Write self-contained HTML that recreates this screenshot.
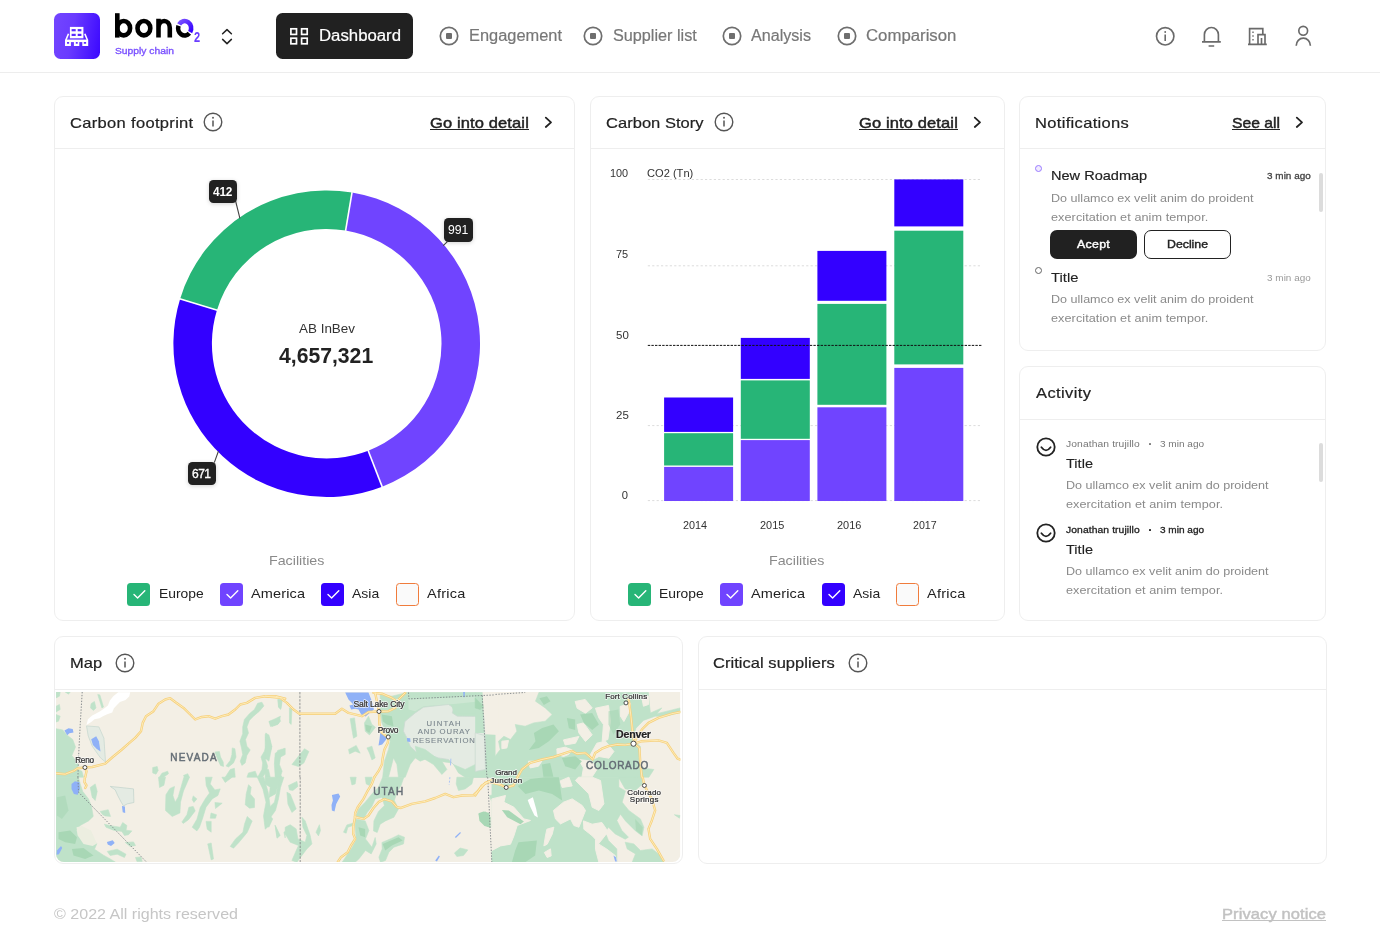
<!DOCTYPE html>
<html lang="en">
<head>
<meta charset="utf-8">
<title>bono2 Supply chain - Dashboard</title>
<style>
*{box-sizing:border-box;margin:0;padding:0}
html,body{width:1380px;height:941px;overflow:hidden;background:#fff}
body{font-family:"Liberation Sans",sans-serif;position:relative;color:#222}
.t{position:absolute;white-space:nowrap;display:block;transform-origin:0 0}
h1,h2,h3,p{font-weight:400}
h2,h3,nav a{-webkit-text-stroke-width:.2px}
a{text-decoration:none}
.abs{position:absolute}
.card{position:absolute;background:#fff;border:1px solid #eeeeee;border-radius:9px}
.sep{position:absolute;height:1px;background:#eeeeee}
.u{text-decoration:underline;text-underline-offset:2px;text-decoration-thickness:1px}
svg{position:absolute;overflow:visible}
.cb{position:absolute;width:23px;height:23px;border-radius:3.5px}
.lbl{position:absolute;background:#212121;border-radius:4.5px;box-shadow:0 1px 4px rgba(0,0,0,.18)}
.btn{position:absolute;border-radius:7px;height:28.5px}
.sb{position:absolute;width:3.5px;border-radius:2px;background:#dcdcdc}
</style>
</head>
<body><div id="app" style="position:absolute;left:0;top:0;width:1380px;height:941px;will-change:transform">
<header>
<div class="abs" style="left:0;top:72px;width:1380px;height:1px;background:#ededed"></div>
<div class="abs" style="left:54px;top:13px;width:46px;height:46px;border-radius:6.5px;background:linear-gradient(100deg,#7346ff 0%,#6a3bff 40%,#3a07ff 100%)"></div>
<svg style="left:54px;top:13px" width="46" height="46" viewBox="54 13 46 46">
<rect x="69.9" y="26.9" width="13.5" height="11.4" fill="#fff"/>
<rect x="71.6" y="29.1" width="4.1" height="2.2" fill="#5b2dff"/><rect x="77.7" y="29.1" width="3.7" height="2.2" fill="#5426ff"/>
<rect x="71.6" y="33.8" width="4.1" height="2.2" fill="#5b2dff"/><rect x="77.7" y="33.8" width="3.7" height="2.2" fill="#5426ff"/>
<path d="M68.5 33.8 L65.9 40 M84.8 33.8 L87.4 40" stroke="#fff" stroke-width="1.6" fill="none"/>
<rect x="65" y="39.6" width="23.2" height="2.5" fill="#fff"/>
<path d="M65 42h5.9v4h-5.9z M73.9 42h5.4v4h-5.4z M82.3 42h5.9v4h-5.9z" fill="#fff"/>
<path d="M67 42.1h2.1v1.6h-2.1z M75.8 42.1h1.9v1.6h-1.9z M83.8 42.1h2.3v1.6h-2.3z" fill="#6030ff"/>
</svg>
<svg style="left:110px;top:8px" width="100" height="40" viewBox="110 8 100 40">
<defs><linearGradient id="og" x1="0" y1="0" x2="1" y2="1"><stop offset="0" stop-color="#7a50ff"/><stop offset="1" stop-color="#3300ff"/></linearGradient></defs>
<g fill="none" stroke="#000" stroke-width="4.6">
<path d="M117.3 13.2 V37.6"/>
<ellipse cx="123.7" cy="28.2" rx="6.4" ry="7.2"/>
<ellipse cx="143.9" cy="28.2" rx="6.4" ry="7.2"/>
<path d="M158.5 18.8 V37.4 M158.5 28 C158.5 18.6 169.8 18.6 169.8 28 V37.4"/>
</g>
<path d="M189.33 33.20 A6.5 7.2 0 0 1 178.54 25.74" fill="none" stroke="#000" stroke-width="4.6"/>
<path d="M179.14 24.38 A6.5 7.2 0 0 1 190.16 32.02" fill="none" stroke="url(#og)" stroke-width="4.6"/>
</svg>
<span class="t" style="left:194.00px;top:30.00px;font-size:14.2px;line-height:14.2px;color:#6a3dff;font-weight:700;transform:scaleX(.78);transform-origin:0 0;">2</span>
<span class="t" style="left:115.20px;top:46.00px;font-size:9.6px;line-height:9.6px;color:#7b52ff;transform:scaleX(1.0733);-webkit-text-stroke:.35px #7b52ff;">Supply chain</span>
<svg style="left:220px;top:27px" width="14" height="18" viewBox="220 27 14 18"><path d="M222.6 33.8 L227 29.6 L231.4 33.8 M222.6 39.4 L227 43.6 L231.4 39.4" fill="none" stroke="#222" stroke-width="1.5" stroke-linecap="round" stroke-linejoin="round"/></svg>
<nav>
<div class="abs" style="left:276px;top:13px;width:137px;height:46px;border-radius:6.5px;background:#212121"></div>
<svg style="left:289px;top:27px" width="20" height="19" viewBox="289 27 20 19"><g fill="none" stroke="#fff" stroke-width="1.7">
<rect x="290.9" y="28.8" width="5.6" height="5.6"/><rect x="301.6" y="28.8" width="5.6" height="5.6"/>
<rect x="290.9" y="38.2" width="5.6" height="5.6"/><rect x="301.6" y="38.2" width="5.6" height="5.6"/></g></svg>
<a class="t" style="left:318.60px;top:28.00px;font-size:16px;line-height:16px;color:#ffffff;transform:scaleX(1.0476);">Dashboard</a>
<svg style="left:438.3px;top:25px" width="22" height="22" viewBox="438.3 25 22 22"><circle cx="449.3" cy="36" r="8.7" fill="none" stroke="#6e6e6e" stroke-width="1.7"/><rect x="446.3" y="33" width="6" height="6" rx="1" fill="#6e6e6e"/></svg>
<a class="t" style="left:469.00px;top:28.00px;font-size:16px;line-height:16px;color:#777777;transform:scaleX(1.0249);">Engagement</a>
<svg style="left:582.2px;top:25px" width="22" height="22" viewBox="582.2 25 22 22"><circle cx="593.2" cy="36" r="8.7" fill="none" stroke="#6e6e6e" stroke-width="1.7"/><rect x="590.2" y="33" width="6" height="6" rx="1" fill="#6e6e6e"/></svg>
<a class="t" style="left:612.50px;top:28.00px;font-size:16px;line-height:16px;color:#777777;transform:scaleX(1.0132);">Supplier list</a>
<svg style="left:720.5px;top:25px" width="22" height="22" viewBox="720.5 25 22 22"><circle cx="731.5" cy="36" r="8.7" fill="none" stroke="#6e6e6e" stroke-width="1.7"/><rect x="728.5" y="33" width="6" height="6" rx="1" fill="#6e6e6e"/></svg>
<a class="t" style="left:751.20px;top:28.00px;font-size:16px;line-height:16px;color:#777777;transform:scaleX(1.0070);">Analysis</a>
<svg style="left:835.6px;top:25px" width="22" height="22" viewBox="835.6 25 22 22"><circle cx="846.6" cy="36" r="8.7" fill="none" stroke="#6e6e6e" stroke-width="1.7"/><rect x="843.6" y="33" width="6" height="6" rx="1" fill="#6e6e6e"/></svg>
<a class="t" style="left:866.00px;top:28.00px;font-size:16px;line-height:16px;color:#777777;transform:scaleX(1.0480);">Comparison</a>
</nav>
<svg style="left:1150px;top:20px" width="170" height="32" viewBox="1150 20 170 32"><g fill="none" stroke="#6a6a6a" stroke-width="1.65">
<circle cx="1165.2" cy="36.3" r="8.7"/>
<path d="M1165.2 34.6 V41" stroke-width="1.6"/><circle cx="1165.2" cy="32" r=".95" fill="#6a6a6a" stroke="none"/>
<path d="M1204.4 41.6 V34.6 A6.9 7 0 0 1 1218.4 34.6 V41.6 M1202 41.9 H1220.8 M1208.6 46 H1214.2"/>
<path d="M1249.6 44.2 V28.6 H1262.8 V34.2 M1258 44.2 V34.6 H1265 V44.2 M1248 44.4 H1266.8 M1261.5 44.2 V38"/>
<path d="M1252.3 32.3 h1.4 M1252.3 36 h1.4 M1252.3 39.7 h1.4" stroke-width="1.4"/>
<circle cx="1303.2" cy="30.8" r="4.4"/>
<path d="M1296.2 45.8 A7.1 7.6 0 0 1 1310.4 45.8"/>
</g></svg>
</header>
<main>
<section>
<div class="card" style="left:53.5px;top:95.5px;width:521.5px;height:525px"></div>
<div class="sep" style="left:54.5px;top:148.3px;width:519.5px"></div>
<h2 class="t" style="left:69.60px;top:115.00px;font-size:15px;line-height:15px;color:#222;letter-spacing:0.296px;transform:scaleX(1.1000);">Carbon footprint</h2>
<svg style="left:201.7px;top:111.4px" width="22" height="22" viewBox="201.7 111.4 22 22"><circle cx="212.7" cy="122.4" r="8.8" fill="none" stroke="#555" stroke-width="1.4"/><path d="M212.7 120.80000000000001 V127.0" stroke="#555" stroke-width="1.5"/><circle cx="212.7" cy="118.10000000000001" r=".95" fill="#555"/></svg>
<a class="t" style="left:430.00px;top:115.00px;font-size:15px;line-height:15px;color:#222;letter-spacing:0.110px;transform:scaleX(1.1000);-webkit-text-stroke:.45px #222;">Go into detail</a><div class="abs" style="left:430px;top:128.9px;width:98.8px;height:1.2px;background:#222"></div>
<svg style="left:542.6px;top:115.3px" width="12" height="15" viewBox="542.6 115.3 12 15"><path d="M545.4 117.89999999999999 L550.6 122.6 L545.4 127.3" fill="none" stroke="#222" stroke-width="1.8" stroke-linecap="round" stroke-linejoin="round"/></svg>
<svg style="left:0;top:0" width="1380" height="941" viewBox="0 0 1380 941"><path d="M352.00 192.50 A153.3 153.3 0 0 1 382.14 486.63 L368.21 450.73 A114.8 114.8 0 0 0 345.65 230.47 Z" fill="#7044ff"/><path d="M382.14 486.63 A153.3 153.3 0 0 1 180.10 298.88 L216.92 310.14 A114.8 114.8 0 0 0 368.21 450.73 Z" fill="#3300ff"/><path d="M180.10 298.88 A153.3 153.3 0 0 1 352.00 192.50 L345.65 230.47 A114.8 114.8 0 0 0 216.92 310.14 Z" fill="#27b577"/><path d="M352.08 192.01 L345.56 230.97" stroke="#fff" stroke-width="1.6"/><path d="M382.32 487.09 L368.03 450.26" stroke="#fff" stroke-width="1.6"/><path d="M179.62 298.73 L217.39 310.28" stroke="#fff" stroke-width="1.6"/></svg>
<svg style="left:0;top:0" width="1380" height="941" viewBox="0 0 1380 941"><path d="M235.6 201 L239.9 218.3 M447.4 241.6 L443.2 245.6 M214.3 462.6 L218.4 451.2" stroke="#444" stroke-width="1.1" fill="none"/></svg>
<div class="lbl" style="left:209px;top:180px;width:28px;height:23px"></div>
<span class="t" style="left:213.10px;top:186.00px;font-size:12.6px;line-height:12.6px;color:#fff;font-weight:700;letter-spacing:-0.192px;transform:scaleX(0.9400);">412</span>
<div class="lbl" style="left:444.2px;top:217.6px;width:28.8px;height:24.6px"></div>
<span class="t" style="left:448.20px;top:223.00px;font-size:13px;line-height:13px;color:#fff;transform:scaleX(0.9405);">991</span>
<div class="lbl" style="left:187.9px;top:462px;width:28px;height:23px"></div>
<span class="t" style="left:192.00px;top:468.00px;font-size:12.8px;line-height:12.8px;color:#fff;letter-spacing:-0.572px;transform:scaleX(0.9400);-webkit-text-stroke:.35px #fff;">671</span>
<span class="t" style="left:298.90px;top:322.00px;font-size:13px;line-height:13px;color:#333;transform:scaleX(1.0333);">AB InBev</span>
<span class="t" style="left:279.40px;top:345.00px;font-size:22.4px;line-height:22.4px;color:#222;font-weight:700;transform:scaleX(0.9453);">4,657,321</span>
<span class="t" style="left:268.80px;top:554.00px;font-size:13px;line-height:13px;color:#8a8a8a;transform:scaleX(1.0956);">Facilities</span><div class="cb" style="left:127.4px;top:582.5px;background:#27b577"></div><svg style="left:127.4px;top:582.5px" width="23" height="23" viewBox="0 0 23 23"><path d="M7 11.6 L10.6 15 L17.8 7.8" fill="none" stroke="#fff" stroke-width="1.4" stroke-linecap="round" stroke-linejoin="round"/></svg><span class="t" style="left:158.60px;top:587.00px;font-size:13.2px;line-height:13.2px;color:#222;transform:scaleX(1.0501);">Europe</span><div class="cb" style="left:219.6px;top:582.5px;background:#7044ff"></div><svg style="left:219.6px;top:582.5px" width="23" height="23" viewBox="0 0 23 23"><path d="M7 11.6 L10.6 15 L17.8 7.8" fill="none" stroke="#fff" stroke-width="1.4" stroke-linecap="round" stroke-linejoin="round"/></svg><span class="t" style="left:250.80px;top:587.00px;font-size:13.2px;line-height:13.2px;color:#222;letter-spacing:0.113px;transform:scaleX(1.1000);">America</span><div class="cb" style="left:321.3px;top:582.5px;background:#3300ff"></div><svg style="left:321.3px;top:582.5px" width="23" height="23" viewBox="0 0 23 23"><path d="M7 11.6 L10.6 15 L17.8 7.8" fill="none" stroke="#fff" stroke-width="1.4" stroke-linecap="round" stroke-linejoin="round"/></svg><span class="t" style="left:352.00px;top:587.00px;font-size:13.2px;line-height:13.2px;color:#222;transform:scaleX(1.0592);">Asia</span><div class="cb" style="left:395.9px;top:582.5px;background:#fafafa;border:1.6px solid #f07c3c"></div><span class="t" style="left:426.80px;top:587.00px;font-size:13.2px;line-height:13.2px;color:#222;letter-spacing:0.215px;transform:scaleX(1.1000);">Africa</span>
</section>
<section>
<div class="card" style="left:590px;top:95.5px;width:414.5px;height:525px"></div>
<div class="sep" style="left:591px;top:148.3px;width:412.5px"></div>
<h2 class="t" style="left:606.20px;top:115.00px;font-size:15px;line-height:15px;color:#222;letter-spacing:0.032px;transform:scaleX(1.1000);">Carbon Story</h2>
<svg style="left:713.4px;top:111.4px" width="22" height="22" viewBox="713.4 111.4 22 22"><circle cx="724.4" cy="122.4" r="8.8" fill="none" stroke="#555" stroke-width="1.4"/><path d="M724.4 120.80000000000001 V127.0" stroke="#555" stroke-width="1.5"/><circle cx="724.4" cy="118.10000000000001" r=".95" fill="#555"/></svg>
<a class="t" style="left:859.30px;top:115.00px;font-size:15px;line-height:15px;color:#222;letter-spacing:0.110px;transform:scaleX(1.1000);-webkit-text-stroke:.45px #222;">Go into detail</a><div class="abs" style="left:859.3px;top:128.9px;width:98.8px;height:1.2px;background:#222"></div>
<svg style="left:971.9px;top:115.3px" width="12" height="15" viewBox="971.9 115.3 12 15"><path d="M974.6999999999999 117.89999999999999 L979.9 122.6 L974.6999999999999 127.3" fill="none" stroke="#222" stroke-width="1.8" stroke-linecap="round" stroke-linejoin="round"/></svg>
<svg style="left:0;top:0" width="1380" height="941" viewBox="0 0 1380 941"><path d="M647.8 179.5 H981.6" stroke="#dcdcdc" stroke-width="1" stroke-dasharray="2.2 2.2"/><path d="M647.8 265.8 H981.6" stroke="#dcdcdc" stroke-width="1" stroke-dasharray="2.2 2.2"/><path d="M647.8 425.6 H981.6" stroke="#dcdcdc" stroke-width="1" stroke-dasharray="2.2 2.2"/><path d="M647.8 500.6 H981.6" stroke="#dcdcdc" stroke-width="1" stroke-dasharray="2.2 2.2"/><rect x="664.1" y="397.5" width="69.0" height="34.4" fill="#3300ff"/><rect x="664.1" y="433.2" width="69.0" height="32.3" fill="#27b577"/><rect x="664.1" y="466.9" width="69.0" height="34.1" fill="#7044ff"/><rect x="740.8" y="337.9" width="69.0" height="41.0" fill="#3300ff"/><rect x="740.8" y="380.4" width="69.0" height="58.4" fill="#27b577"/><rect x="740.8" y="440.1" width="69.0" height="60.9" fill="#7044ff"/><rect x="817.4" y="250.9" width="69.0" height="49.9" fill="#3300ff"/><rect x="817.4" y="303.9" width="69.0" height="100.9" fill="#27b577"/><rect x="817.4" y="407.3" width="69.0" height="93.7" fill="#7044ff"/><rect x="894.3" y="179.4" width="69.0" height="47.0" fill="#3300ff"/><rect x="894.3" y="230.7" width="69.0" height="133.7" fill="#27b577"/><rect x="894.3" y="367.9" width="69.0" height="133.1" fill="#7044ff"/><path d="M647.8 345.4 H981.6" stroke="#111" stroke-width="1" stroke-dasharray="2.4 1.2"/></svg>
<span class="t" style="left:610.00px;top:168.00px;font-size:11.2px;line-height:11.2px;color:#333;transform:scaleX(0.9739);">100</span>
<span class="t" style="left:647.00px;top:168.00px;font-size:11.2px;line-height:11.2px;color:#333;transform:scaleX(0.9920);">CO2 (Tn)</span>
<span class="t" style="left:616.40px;top:249.00px;font-size:11.2px;line-height:11.2px;color:#333;transform:scaleX(0.9793);">75</span>
<span class="t" style="left:615.80px;top:330.00px;font-size:11.2px;line-height:11.2px;color:#333;transform:scaleX(1.0274);">50</span>
<span class="t" style="left:615.80px;top:410.00px;font-size:11.2px;line-height:11.2px;color:#333;transform:scaleX(1.0274);">25</span>
<span class="t" style="left:621.80px;top:490.00px;font-size:11.2px;line-height:11.2px;color:#333;">0</span>
<span class="t" style="left:683.20px;top:520.00px;font-size:11.2px;line-height:11.2px;color:#333;transform:scaleX(0.9672);">2014</span>
<span class="t" style="left:760.00px;top:520.00px;font-size:11.2px;line-height:11.2px;color:#333;transform:scaleX(0.9753);">2015</span>
<span class="t" style="left:836.50px;top:520.00px;font-size:11.2px;line-height:11.2px;color:#333;transform:scaleX(0.9793);">2016</span>
<span class="t" style="left:913.00px;top:520.00px;font-size:11.2px;line-height:11.2px;color:#333;transform:scaleX(0.9512);">2017</span>
<span class="t" style="left:769.30px;top:554.00px;font-size:13px;line-height:13px;color:#8a8a8a;transform:scaleX(1.0956);">Facilities</span><div class="cb" style="left:627.9px;top:582.5px;background:#27b577"></div><svg style="left:627.9px;top:582.5px" width="23" height="23" viewBox="0 0 23 23"><path d="M7 11.6 L10.6 15 L17.8 7.8" fill="none" stroke="#fff" stroke-width="1.4" stroke-linecap="round" stroke-linejoin="round"/></svg><span class="t" style="left:659.10px;top:587.00px;font-size:13.2px;line-height:13.2px;color:#222;transform:scaleX(1.0501);">Europe</span><div class="cb" style="left:720.1px;top:582.5px;background:#7044ff"></div><svg style="left:720.1px;top:582.5px" width="23" height="23" viewBox="0 0 23 23"><path d="M7 11.6 L10.6 15 L17.8 7.8" fill="none" stroke="#fff" stroke-width="1.4" stroke-linecap="round" stroke-linejoin="round"/></svg><span class="t" style="left:751.30px;top:587.00px;font-size:13.2px;line-height:13.2px;color:#222;letter-spacing:0.113px;transform:scaleX(1.1000);">America</span><div class="cb" style="left:821.8px;top:582.5px;background:#3300ff"></div><svg style="left:821.8px;top:582.5px" width="23" height="23" viewBox="0 0 23 23"><path d="M7 11.6 L10.6 15 L17.8 7.8" fill="none" stroke="#fff" stroke-width="1.4" stroke-linecap="round" stroke-linejoin="round"/></svg><span class="t" style="left:852.50px;top:587.00px;font-size:13.2px;line-height:13.2px;color:#222;transform:scaleX(1.0592);">Asia</span><div class="cb" style="left:896.4px;top:582.5px;background:#fafafa;border:1.6px solid #f07c3c"></div><span class="t" style="left:927.30px;top:587.00px;font-size:13.2px;line-height:13.2px;color:#222;letter-spacing:0.215px;transform:scaleX(1.1000);">Africa</span>
</section>
<section>
<div class="card" style="left:1019.3px;top:95.5px;width:307px;height:255.3px"></div>
<div class="sep" style="left:1020.3px;top:148.3px;width:305px"></div>
<h2 class="t" style="left:1035.30px;top:115.00px;font-size:15px;line-height:15px;color:#222;letter-spacing:0.297px;transform:scaleX(1.1000);">Notifications</h2>
<a class="t" style="left:1231.80px;top:115.00px;font-size:15px;line-height:15px;color:#222;transform:scaleX(1.0465);-webkit-text-stroke:.45px #222;">See all</a><div class="abs" style="left:1231.8px;top:128.9px;width:48px;height:1.2px;background:#222"></div>
<svg style="left:1294.1px;top:115.3px" width="12" height="15" viewBox="1294.1 115.3 12 15"><path d="M1296.8999999999999 117.89999999999999 L1302.1 122.6 L1296.8999999999999 127.3" fill="none" stroke="#222" stroke-width="1.8" stroke-linecap="round" stroke-linejoin="round"/></svg>
<div class="abs" style="left:1035.2px;top:165.2px;width:7.3px;height:7.3px;border-radius:50%;border:1.1px solid #9a7bff;background:#f0ebff"></div>
<h3 class="t" style="left:1050.80px;top:169.00px;font-size:13.5px;line-height:13.5px;color:#222;transform:scaleX(1.0773);">New Roadmap</h3>
<span class="t" style="left:1266.50px;top:172.00px;font-size:9px;line-height:9px;color:#444;letter-spacing:0.037px;transform:scaleX(1.1000);-webkit-text-stroke:.3px #444;">3 min ago</span>
<p class="t" style="left:1050.80px;top:193.00px;font-size:11.5px;line-height:11.5px;color:#8a8a8a;transform:scaleX(1.0929);">Do ullamco ex velit anim do proident</p>
<p class="t" style="left:1050.80px;top:212.00px;font-size:11.5px;line-height:11.5px;color:#8a8a8a;letter-spacing:0.064px;transform:scaleX(1.1000);">exercitation et anim tempor.</p>
<div class="btn" style="left:1050.2px;top:230.3px;width:86.4px;background:#212121"></div>
<span class="t" style="left:1077.10px;top:239.00px;font-size:11.2px;line-height:11.2px;color:#fff;letter-spacing:0.294px;transform:scaleX(1.1000);-webkit-text-stroke:.4px #fff;">Acept</span>
<div class="btn" style="left:1144px;top:230.3px;width:86.5px;border:1.1px solid #222;background:#fff"></div>
<span class="t" style="left:1167.00px;top:239.00px;font-size:11.2px;line-height:11.2px;color:#222;transform:scaleX(1.1000);-webkit-text-stroke:.4px #222;">Decline</span>
<div class="sb" style="left:1319.2px;top:172.5px;height:39.8px"></div>
<div class="abs" style="left:1035.2px;top:266.8px;width:7.3px;height:7.3px;border-radius:50%;border:1.1px solid #666;background:#fff"></div>
<h3 class="t" style="left:1050.80px;top:271.00px;font-size:13.5px;line-height:13.5px;color:#222;transform:scaleX(1.0958);-webkit-text-stroke:.12px #222;">Title</h3>
<span class="t" style="left:1266.50px;top:274.00px;font-size:9px;line-height:9px;color:#9a9a9a;letter-spacing:0.037px;transform:scaleX(1.1000);">3 min ago</span>
<p class="t" style="left:1050.80px;top:294.00px;font-size:11.5px;line-height:11.5px;color:#8a8a8a;transform:scaleX(1.0929);">Do ullamco ex velit anim do proident</p>
<p class="t" style="left:1050.80px;top:313.00px;font-size:11.5px;line-height:11.5px;color:#8a8a8a;letter-spacing:0.064px;transform:scaleX(1.1000);">exercitation et anim tempor.</p>
</section>
<section>
<div class="card" style="left:1019.3px;top:365.8px;width:307px;height:255px"></div>
<div class="sep" style="left:1020.3px;top:418.6px;width:305px"></div>
<h2 class="t" style="left:1035.80px;top:385.00px;font-size:15px;line-height:15px;color:#222;letter-spacing:0.356px;transform:scaleX(1.1000);">Activity</h2>
<svg style="left:1034.3px;top:434.5px" width="24" height="24" viewBox="1034.3 434.5 24 24"><circle cx="1046.3" cy="446.5" r="8.7" fill="none" stroke="#222" stroke-width="1.8"/><path d="M1041.7 446.8 Q1046.3 453.1 1050.8999999999999 446.8" fill="none" stroke="#222" stroke-width="1.8" stroke-linecap="round"/></svg><span class="t" style="left:1066.10px;top:439.00px;font-size:9.4px;line-height:9.4px;color:#777;letter-spacing:0.084px;transform:scaleX(1.1000);">Jonathan trujillo</span><div class="abs" style="left:1149.3px;top:443.2px;width:1.7px;height:1.7px;border-radius:50%;background:#777"></div><span class="t" style="left:1159.80px;top:439.00px;font-size:9.4px;line-height:9.4px;color:#777;transform:scaleX(1.0707);">3 min ago</span><h3 class="t" style="left:1066.10px;top:457.00px;font-size:13.5px;line-height:13.5px;color:#222;transform:scaleX(1.0798);-webkit-text-stroke:.12px #222;">Title</h3><p class="t" style="left:1066.10px;top:480.00px;font-size:11.5px;line-height:11.5px;color:#8a8a8a;transform:scaleX(1.0929);">Do ullamco ex velit anim do proident</p><p class="t" style="left:1066.10px;top:499.00px;font-size:11.5px;line-height:11.5px;color:#8a8a8a;letter-spacing:0.054px;transform:scaleX(1.1000);">exercitation et anim tempor.</p>
<svg style="left:1034.3px;top:520.5px" width="24" height="24" viewBox="1034.3 520.5 24 24"><circle cx="1046.3" cy="532.5" r="8.7" fill="none" stroke="#222" stroke-width="1.8"/><path d="M1041.7 532.8 Q1046.3 539.1 1050.8999999999999 532.8" fill="none" stroke="#222" stroke-width="1.8" stroke-linecap="round"/></svg><span class="t" style="left:1066.10px;top:525.00px;font-size:9.4px;line-height:9.4px;color:#222;letter-spacing:0.084px;transform:scaleX(1.1000);-webkit-text-stroke:.3px #222;">Jonathan trujillo</span><div class="abs" style="left:1149.3px;top:529.2px;width:1.7px;height:1.7px;border-radius:50%;background:#222"></div><span class="t" style="left:1159.80px;top:525.00px;font-size:9.4px;line-height:9.4px;color:#222;transform:scaleX(1.0707);-webkit-text-stroke:.3px #222;">3 min ago</span><h3 class="t" style="left:1066.10px;top:543.00px;font-size:13.5px;line-height:13.5px;color:#222;transform:scaleX(1.0798);-webkit-text-stroke:.12px #222;">Title</h3><p class="t" style="left:1066.10px;top:566.00px;font-size:11.5px;line-height:11.5px;color:#8a8a8a;transform:scaleX(1.0929);">Do ullamco ex velit anim do proident</p><p class="t" style="left:1066.10px;top:585.00px;font-size:11.5px;line-height:11.5px;color:#8a8a8a;letter-spacing:0.054px;transform:scaleX(1.1000);">exercitation et anim tempor.</p>
<div class="sb" style="left:1319.2px;top:443px;height:39.4px"></div>
</section>
<section>
<div class="card" style="left:53.5px;top:636px;width:629px;height:228px"></div>
<div class="sep" style="left:54.5px;top:688.8px;width:627px"></div>
<h2 class="t" style="left:69.70px;top:655.00px;font-size:15px;line-height:15px;color:#222;letter-spacing:0.091px;transform:scaleX(1.1000);">Map</h2>
<svg style="left:114.4px;top:652px" width="22" height="22" viewBox="114.4 652 22 22"><circle cx="125.4" cy="663" r="8.8" fill="none" stroke="#555" stroke-width="1.4"/><path d="M125.4 661.4 V667.6" stroke="#555" stroke-width="1.5"/><circle cx="125.4" cy="658.7" r=".95" fill="#555"/></svg>
<svg style="left:55.8px;top:691.8px" width="624.4" height="170.2" viewBox="0 0 624.4 170.2">
<defs><clipPath id="mc"><path d="M0 0 H624.4 V162 a8 8 0 0 1 -8 8 H8 a8 8 0 0 1 -8 -8 Z"/></clipPath><filter id="sf" x="-2%" y="-2%" width="104%" height="104%"><feGaussianBlur stdDeviation=".45"/></filter></defs>
<g clip-path="url(#mc)">
<rect width="624.4" height="170.2" fill="#f3efe5"/>
<g filter="url(#sf)" stroke-linejoin="round">
<path d="M0.0 0.0 L4.2 0.0 L3.4 4.2 L0.0 5.9Z" fill="#bfe2c9" stroke="#bfe2c9" stroke-width=".6"/>
<path d="M9.2 0.0 L14.2 0.0 L12.5 2.2Z" fill="#bfe2c9" stroke="#bfe2c9" stroke-width=".6"/>
<path d="M0.0 14.2 L3.4 12.5 L4.2 17.5 L0.0 20.0Z" fill="#bfe2c9" stroke="#bfe2c9" stroke-width=".6"/>
<path d="M0.0 22.5 L4.2 24.2 L2.5 29.2 L0.0 30.0Z" fill="#bfe2c9" stroke="#bfe2c9" stroke-width=".6"/>
<path d="M35.0 11.7 L38.4 9.5 L40.0 15.9 L37.5 18.4 L34.5 15.9Z" fill="#bfe2c9" stroke="#bfe2c9" stroke-width=".6"/>
<path d="M41.7 2.5 L43.9 2.9 L47.5 15.0 L45.9 15.9Z" fill="#bfe2c9" stroke="#bfe2c9" stroke-width=".6"/>
<path d="M0.0 36.7 L6.7 37.9 L10.9 42.9 L16.7 47.5 L19.5 55.0 L15.9 63.4 L18.9 67.5 L22.2 72.5 L21.2 85.2 L0.0 85.2Z" fill="#bfe2c9" stroke="#bfe2c9" stroke-width=".6"/>
<path d="M21.7 77.5 L25.9 79.2 L27.5 85.2 L21.7 85.2Z" fill="#bfe2c9" stroke="#bfe2c9" stroke-width=".6"/>
<path d="M201.7 11.2 L205.9 10.2 L207.9 13.9 L203.4 19.2 L197.5 24.2 L193.4 28.4 L190.9 35.0 L192.5 40.9 L189.5 47.5 L190.9 54.2 L194.2 57.9 L190.9 63.4 L189.2 70.9 L185.9 73.4 L184.2 69.2 L186.7 62.5 L185.5 55.9 L183.9 49.2 L186.7 41.7 L186.7 35.0 L188.4 27.5 L193.4 21.7 L198.4 17.5Z" fill="#bfe2c9" stroke="#bfe2c9" stroke-width=".6"/>
<path d="M222.5 7.2 L226.2 8.4 L225.0 16.7 L222.5 15.0Z" fill="#bfe2c9" stroke="#bfe2c9" stroke-width=".6"/>
<path d="M213.4 29.5 L219.2 28.4 L223.4 25.0 L224.5 29.2 L221.7 32.5 L215.9 34.5Z" fill="#bfe2c9" stroke="#bfe2c9" stroke-width=".6"/>
<path d="M210.5 41.7 L212.9 42.9 L214.5 49.2 L215.5 56.7 L212.5 62.5 L209.5 67.5 L211.7 74.2 L210.5 79.2 L206.7 85.2 L201.7 85.2 L205.9 77.5 L206.7 70.9 L205.0 65.0 L208.4 59.2 L210.5 52.5 L209.5 46.7Z" fill="#bfe2c9" stroke="#bfe2c9" stroke-width=".6"/>
<path d="M221.7 58.4 L229.2 56.2 L229.2 62.5 L224.5 65.0 L223.4 72.5 L226.2 79.2 L224.2 85.2 L219.5 85.2 L220.9 77.5 L218.9 70.9 L219.5 64.2Z" fill="#bfe2c9" stroke="#bfe2c9" stroke-width=".6"/>
<path d="M176.2 55.9 L178.9 56.7 L180.0 65.0 L177.5 70.9 L172.5 75.0 L170.0 73.9 L174.2 68.4 L175.9 62.5Z" fill="#bfe2c9" stroke="#bfe2c9" stroke-width=".6"/>
<path d="M158.9 60.0 L163.4 59.5 L164.5 65.0 L167.2 70.0 L167.5 74.5 L164.5 73.4 L161.7 67.5Z" fill="#bfe2c9" stroke="#bfe2c9" stroke-width=".6"/>
<path d="M96.7 75.5 L101.2 74.5 L102.2 78.4 L100.0 82.2 L96.7 80.9Z" fill="#bfe2c9" stroke="#bfe2c9" stroke-width=".6"/>
<path d="M105.9 81.2 L111.7 79.2 L112.5 81.7 L107.5 85.2 L103.4 85.2Z" fill="#bfe2c9" stroke="#bfe2c9" stroke-width=".6"/>
<path d="M127.5 83.4 L131.7 81.7 L133.4 85.2 L128.4 85.2Z" fill="#bfe2c9" stroke="#bfe2c9" stroke-width=".6"/>
<path d="M174.2 77.5 L178.4 76.2 L179.2 85.2 L169.2 85.2Z" fill="#bfe2c9" stroke="#bfe2c9" stroke-width=".6"/>
<path d="M192.5 80.9 L199.2 79.2 L201.7 85.2 L190.9 85.2Z" fill="#bfe2c9" stroke="#bfe2c9" stroke-width=".6"/>
<path d="M30.5 32.9 L31.9 27.2 L36.2 23.5 L42.9 19.9 L47.5 16.9 L51.9 13.5 L53.9 8.5 L57.5 3.9 L62.2 0.2 L74.2 0.2 L73.2 4.5 L69.5 7.9 L63.9 9.9 L60.5 13.5 L57.9 16.2 L56.2 20.5 L51.2 22.2 L46.9 24.2 L43.5 26.2 L38.5 27.2 L35.2 29.9Z" fill="#ffffff" />
<path d="M30.5 33.9 L42.9 34.9 L47.9 46.2 L49.5 70.0 L44.5 65.9 L36.2 54.2 L32.2 43.9Z" fill="#e4ebe3" stroke="#c9d9d1" stroke-width=".8"/>
<path d="M35.2 47.2 L40.2 44.2 L42.9 49.2 L44.5 59.5 L40.5 56.7 L36.9 52.9Z" fill="#8fb1f7" />
<path d="M8.4 38.5 L12.5 36.2 L16.7 36.9 L17.5 40.5 L13.4 41.2 L11.2 43.2Z" fill="#8fb1f7" />
<path d="M0.0 85.2 L22.5 85.2 L24.2 91.9 L26.7 99.4 L32.5 106.9 L35.5 114.4 L37.2 124.4 L32.5 128.9 L24.2 133.5 L20.5 138.2 L22.2 143.9 L31.7 147.2 L40.9 151.5 L38.5 157.2 L47.5 163.2 L54.2 166.9 L59.5 170.2 L0.0 170.2Z" fill="#bfe2c9" stroke="#bfe2c9" stroke-width=".6"/>
<path d="M34.2 95.5 L39.2 91.9 L41.2 99.4 L39.2 108.5 L36.2 105.2Z" fill="#bfe2c9" stroke="#bfe2c9" stroke-width=".6"/>
<path d="M44.2 119.4 L52.2 117.7 L54.5 124.4 L49.2 123.9 L46.7 122.7Z" fill="#bfe2c9" stroke="#bfe2c9" stroke-width=".6"/>
<path d="M48.4 132.2 L55.9 133.9 L64.2 135.2 L66.7 130.5 L70.9 133.5 L70.0 138.2 L75.9 138.9 L72.5 142.7 L68.4 143.5 L65.9 139.4 L57.5 138.2 L50.0 135.2Z" fill="#bfe2c9" stroke="#bfe2c9" stroke-width=".6"/>
<path d="M69.2 150.5 L77.5 149.9 L79.5 153.5 L74.2 154.4Z" fill="#bfe2c9" stroke="#bfe2c9" stroke-width=".6"/>
<path d="M51.2 159.4 L61.2 157.2 L70.0 162.2 L68.4 165.5 L61.2 162.2 L54.2 163.5Z" fill="#bfe2c9" stroke="#bfe2c9" stroke-width=".6"/>
<path d="M79.5 165.5 L85.0 164.9 L86.2 169.4 L80.9 169.4Z" fill="#bfe2c9" stroke="#bfe2c9" stroke-width=".6"/>
<path d="M20.5 135.2 L25.9 133.9 L35.0 138.5 L40.9 151.5 L36.7 153.9 L27.5 151.9 L21.7 143.5Z" fill="#eceee0" />
<path d="M2.5 140.2 L14.2 138.5 L20.9 145.2 L19.2 151.9 L9.2 150.2 L2.5 146.9Z" fill="#a8d7b5" />
<path d="M15.9 156.9 L27.5 156.0 L37.5 163.5 L29.2 166.9 L17.5 163.5Z" fill="#a8d7b5" />
<path d="M0.9 105.2 L9.2 103.5 L12.5 118.5 L5.9 126.9 L0.9 123.5Z" fill="#a8d7b5" opacity=".6"/>
<path d="M102.5 85.2 L109.5 85.2 L107.9 93.2 L103.5 95.5Z" fill="#bfe2c9" stroke="#bfe2c9" stroke-width=".6"/>
<path d="M127.9 85.2 L133.5 85.2 L127.5 98.9 L124.5 110.2 L123.9 121.0 L116.2 124.5 L109.5 118.5 L109.9 102.7 L113.9 96.5 L118.5 94.4 L116.9 103.5 L119.2 110.2 L122.2 104.9Z" fill="#bfe2c9" stroke="#bfe2c9" stroke-width=".6"/>
<path d="M132.9 115.2 L137.2 114.4 L139.2 118.9 L132.5 127.7 L127.2 131.5 L125.9 129.9 L130.9 122.7Z" fill="#bfe2c9" stroke="#bfe2c9" stroke-width=".6"/>
<path d="M137.2 103.9 L140.9 106.9 L137.9 110.5 L136.2 107.7Z" fill="#bfe2c9" stroke="#bfe2c9" stroke-width=".6"/>
<path d="M149.5 85.2 L156.2 85.2 L154.2 91.9 L158.9 97.9 L164.2 96.9 L161.9 103.5 L156.2 106.9 L150.0 115.2 L146.7 126.0 L143.5 135.2 L140.9 138.9 L136.2 135.2 L140.9 127.2 L144.2 115.5 L149.2 106.9 L153.5 101.0 L150.2 93.5Z" fill="#bfe2c9" stroke="#bfe2c9" stroke-width=".6"/>
<path d="M158.9 110.5 L166.2 111.2 L159.5 116.5Z" fill="#bfe2c9" stroke="#bfe2c9" stroke-width=".6"/>
<path d="M155.0 121.0 L160.5 122.7 L159.5 126.2 L154.2 126.2Z" fill="#bfe2c9" stroke="#bfe2c9" stroke-width=".6"/>
<path d="M150.0 129.4 L155.2 129.4 L155.2 140.2 L151.2 137.2Z" fill="#bfe2c9" stroke="#bfe2c9" stroke-width=".6"/>
<path d="M165.9 85.2 L176.2 85.2 L169.2 90.5Z" fill="#bfe2c9" stroke="#bfe2c9" stroke-width=".6"/>
<path d="M192.5 92.7 L195.2 95.2 L194.2 101.9 L198.5 106.9 L198.5 115.5 L193.5 116.2 L189.2 112.7 L190.2 101.9Z" fill="#bfe2c9" stroke="#bfe2c9" stroke-width=".6"/>
<path d="M201.2 85.2 L207.9 85.2 L212.2 100.2 L214.2 114.4 L218.4 110.2 L220.9 98.5 L222.9 85.2 L227.9 85.2 L224.5 95.5 L222.5 106.9 L219.5 118.5 L214.5 125.5 L212.9 133.9 L209.2 137.2 L207.5 123.9 L210.0 110.2 L206.9 97.2Z" fill="#bfe2c9" stroke="#bfe2c9" stroke-width=".6"/>
<path d="M191.2 124.5 L196.2 128.9 L191.2 140.5 L182.9 150.5 L177.5 156.2 L174.2 154.4 L179.5 146.9 L186.9 140.2 L188.5 132.2Z" fill="#bfe2c9" stroke="#bfe2c9" stroke-width=".6"/>
<path d="M219.2 133.5 L224.2 143.5 L221.2 146.2Z" fill="#bfe2c9" stroke="#bfe2c9" stroke-width=".6"/>
<path d="M151.7 151.9 L155.2 151.0 L157.5 166.9 L155.2 167.9Z" fill="#bfe2c9" stroke="#bfe2c9" stroke-width=".6"/>
<path d="M227.9 140.2 L229.2 139.4 L229.2 146.0Z" fill="#bfe2c9" stroke="#bfe2c9" stroke-width=".6"/>
<path d="M54.2 94.4 L77.5 96.9 L77.9 110.5 L71.2 111.9 L67.5 113.9 L65.2 110.2 L61.9 103.9 L59.2 97.9Z" fill="#e4ebe3" stroke="#c5d6ce" stroke-width=".8"/>
<path d="M15.5 91.9 L18.9 89.2 L23.4 90.2 L23.9 96.9 L21.7 102.7 L17.9 101.9 L15.5 96.9Z" fill="#8fb1f7" />
<path d="M65.9 113.9 L68.9 114.5 L69.2 120.9 L66.7 120.2Z" fill="#8fb1f7" />
<path d="M50.9 149.9 L56.7 148.2 L58.7 150.9 L55.0 153.9 L51.7 152.5Z" fill="#8fb1f7" />
<path d="M0.9 158.5 L5.0 153.9 L6.2 156.0 L2.9 162.2 L0.5 162.7Z" fill="#8fb1f7" />
<path d="M221.7 7.5 L225.9 8.4 L224.5 17.5 L222.5 15.0Z" fill="#bfe2c9" stroke="#bfe2c9" stroke-width=".6"/>
<path d="M233.4 15.9 L235.9 17.2 L235.2 32.5 L233.5 30.9Z" fill="#bfe2c9" stroke="#bfe2c9" stroke-width=".6"/>
<path d="M212.9 29.5 L219.2 26.7 L224.5 24.2 L222.2 31.9 L214.5 34.5Z" fill="#bfe2c9" stroke="#bfe2c9" stroke-width=".6"/>
<path d="M210.0 40.9 L213.4 45.9 L215.9 54.5 L212.9 69.2 L209.2 66.2 L209.2 42.5Z" fill="#bfe2c9" stroke="#bfe2c9" stroke-width=".6"/>
<path d="M219.2 61.2 L228.5 56.7 L223.9 65.9 L221.9 77.5 L225.9 85.2 L219.2 85.2 L218.4 72.5Z" fill="#bfe2c9" stroke="#bfe2c9" stroke-width=".6"/>
<path d="M235.9 72.5 L242.5 64.2 L248.5 56.7 L252.9 59.5 L247.9 70.9 L242.5 74.5Z" fill="#bfe2c9" stroke="#bfe2c9" stroke-width=".6"/>
<path d="M209.2 77.5 L212.5 77.5 L214.2 85.2 L209.2 85.2Z" fill="#bfe2c9" stroke="#bfe2c9" stroke-width=".6"/>
<path d="M294.2 26.7 L298.5 25.9 L300.9 44.2 L297.5 46.2 L295.9 37.5Z" fill="#bfe2c9" stroke="#bfe2c9" stroke-width=".6"/>
<path d="M308.4 30.9 L312.5 24.2 L315.9 32.5 L319.5 35.2 L313.5 42.9 L309.2 39.2Z" fill="#bfe2c9" stroke="#bfe2c9" stroke-width=".6"/>
<path d="M292.5 57.5 L300.2 53.4 L304.2 61.2 L299.2 59.2 L293.5 61.9Z" fill="#bfe2c9" stroke="#bfe2c9" stroke-width=".6"/>
<path d="M310.9 55.9 L315.9 54.2 L319.2 65.9 L315.9 67.9 L313.4 60.9Z" fill="#bfe2c9" stroke="#bfe2c9" stroke-width=".6"/>
<path d="M324.2 2.5 L335.9 4.2 L350.9 0.5 L439.2 0.5 L439.2 85.2 L415.9 85.2 L405.9 77.5 L395.9 70.9 L382.5 69.2 L372.5 65.9 L364.2 69.2 L359.2 65.9 L354.2 72.5 L349.2 85.2 L342.5 85.2 L340.9 72.5 L337.5 65.9 L332.5 85.2 L326.7 85.2 L328.4 69.2 L332.5 57.5 L334.2 49.2 L329.2 39.2 L325.9 30.9 L324.2 20.9Z" fill="#bfe2c9" stroke="#bfe2c9" stroke-width=".6"/>
<path d="M426.5 -0.8 L442.5 -0.8 L442.5 42.9 L428.9 42.2 L427.9 24.2Z" fill="#f3efe5" />
<path d="M352.5 7.5 L424.2 4.2 L424.2 9.2 L400.9 11.7 L367.5 14.2 L359.2 19.2 L352.5 17.5Z" fill="#cde7d3" />
<path d="M348.9 29.5 L359.2 20.9 L367.5 15.2 L392.5 12.5 L397.9 15.9 L396.2 20.9 L401.2 24.2 L427.9 24.5 L430.9 85.2 L413.4 85.2 L400.9 75.9 L392.5 67.5 L382.5 65.9 L372.5 62.5 L364.2 64.2 L359.2 59.2 L354.2 54.2 L350.9 45.9 L347.5 39.2Z" fill="#e4ebe3" stroke="#cbdad2" stroke-width=".8"/>
<path d="M359.2 54.2 L369.2 57.5 L379.2 65.0 L385.9 69.2 L390.9 77.5 L385.9 82.5 L377.5 72.5 L369.2 67.5 L360.9 62.5Z" fill="#bfe2c9" stroke="#bfe2c9" stroke-width=".6"/>
<path d="M397.5 72.5 L409.2 77.5 L419.2 72.5 L425.9 65.9 L430.9 60.9 L432.5 85.2 L409.2 85.2 L402.5 80.9Z" fill="#bfe2c9" stroke="#bfe2c9" stroke-width=".6"/>
<path d="M395.9 14.2 L409.2 12.5 L425.9 15.9 L424.2 22.5 L402.5 22.5 L397.5 19.2Z" fill="#bfe2c9" stroke="#bfe2c9" stroke-width=".6"/>
<path d="M325.9 22.5 L335.9 24.2 L337.5 34.2 L330.9 32.5 L326.7 29.2Z" fill="#a8d7b5" />
<path d="M309.2 32.5 L315.9 34.2 L313.4 40.9 L310.0 38.4Z" fill="#a8d7b5" />
<path d="M289.2 0.5 L312.5 0.5 L315.9 9.2 L317.9 17.5 L309.5 24.5 L305.2 22.5 L302.5 17.5 L299.2 16.7 L295.2 17.5 L293.4 13.5 L297.5 12.5 L292.5 7.5Z" fill="#8fb1f7" />
<path d="M324.2 40.9 L329.2 42.5 L330.2 47.5 L326.2 52.5 L322.5 53.5 L323.5 47.5Z" fill="#8fb1f7" />
<path d="M350.9 45.9 L354.2 46.2 L354.5 49.9 L351.2 49.5Z" fill="#8fb1f7" />
<path d="M394.9 66.7 L394.5 73.4" fill="none" stroke="#a4bff6" stroke-width=".9"/>
<path d="M407.2 0.0 L408.9 0.0 L408.7 5.2 L407.5 5.2Z" fill="#8fb1f7" />
<path d="M219.2 85.2 L225.9 85.2 L222.9 90.2 L219.5 101.9 L212.9 105.5 L214.2 95.2 L209.2 91.9 L209.2 85.2Z" fill="#bfe2c9" stroke="#bfe2c9" stroke-width=".6"/>
<path d="M209.2 116.9 L216.7 126.9 L212.9 135.2 L209.2 132.2Z" fill="#bfe2c9" stroke="#bfe2c9" stroke-width=".6"/>
<path d="M232.5 93.5 L240.9 89.4 L241.9 94.4 L236.9 98.5 L233.5 97.9Z" fill="#bfe2c9" stroke="#bfe2c9" stroke-width=".6"/>
<path d="M230.9 100.2 L234.2 101.9 L240.2 116.9 L235.9 120.5 L231.9 111.9Z" fill="#bfe2c9" stroke="#bfe2c9" stroke-width=".6"/>
<path d="M219.2 133.5 L223.5 143.5 L220.9 145.5Z" fill="#bfe2c9" stroke="#bfe2c9" stroke-width=".6"/>
<path d="M229.2 135.2 L234.2 132.7 L240.2 136.9 L241.9 146.9 L249.2 150.2 L250.9 143.5 L246.9 135.2 L245.9 125.2 L249.2 128.9 L254.2 143.5 L255.9 151.9 L250.9 156.9 L245.9 163.5 L240.9 170.2 L235.9 168.5 L240.2 158.5 L242.5 153.5 L234.2 150.2 L229.2 141.9Z" fill="#bfe2c9" stroke="#bfe2c9" stroke-width=".6"/>
<path d="M260.0 140.2 L263.4 132.7 L264.5 138.5 L262.5 143.9Z" fill="#bfe2c9" stroke="#bfe2c9" stroke-width=".6"/>
<path d="M294.2 85.2 L300.2 85.2 L299.2 91.9 L295.9 92.9Z" fill="#bfe2c9" stroke="#bfe2c9" stroke-width=".6"/>
<path d="M309.2 85.2 L316.2 85.2 L313.5 93.5 L310.2 91.9Z" fill="#bfe2c9" stroke="#bfe2c9" stroke-width=".6"/>
<path d="M326.7 85.2 L347.9 85.2 L345.0 93.5 L340.9 100.2 L338.4 108.5 L342.5 116.9 L337.9 125.2 L329.5 128.9 L324.2 132.2 L321.2 140.5 L317.5 138.9 L317.9 128.9 L322.5 119.4 L328.4 113.5 L325.9 105.2 L319.2 106.9 L315.9 114.4 L311.2 120.5 L307.9 126.2 L300.0 123.9 L302.5 116.9 L309.2 110.2 L315.9 101.9 L322.5 95.2Z" fill="#bfe2c9" stroke="#bfe2c9" stroke-width=".6"/>
<path d="M299.2 126.9 L309.2 128.9 L312.9 138.5 L309.5 146.9 L315.9 155.2 L319.2 145.5 L320.2 151.9 L315.2 161.9 L309.5 158.5 L302.9 166.9 L299.2 170.2 L286.2 170.2 L296.2 155.2 L300.2 147.7 L299.2 135.2Z" fill="#bfe2c9" stroke="#bfe2c9" stroke-width=".6"/>
<path d="M287.5 140.2 L290.9 132.9 L296.9 131.2 L295.9 133.9 L291.9 135.2 L290.2 141.2Z" fill="#bfe2c9" stroke="#bfe2c9" stroke-width=".6"/>
<path d="M325.9 150.5 L335.9 146.2 L342.5 142.9 L348.5 145.2 L347.5 151.9 L337.9 155.2 L332.9 160.2 L329.5 168.5 L324.5 170.2 L322.9 165.2 L326.2 156.9Z" fill="#bfe2c9" stroke="#bfe2c9" stroke-width=".6"/>
<path d="M398.4 161.0 L404.2 156.0 L411.9 157.9 L407.5 163.5 L400.9 164.5Z" fill="#bfe2c9" stroke="#bfe2c9" stroke-width=".6"/>
<path d="M400.9 85.2 L417.5 85.2 L415.9 91.9 L409.2 96.9 L402.5 98.5 L400.2 91.9Z" fill="#bfe2c9" stroke="#bfe2c9" stroke-width=".6"/>
<path d="M433.4 103.5 L439.2 102.7 L439.2 111.9 L435.2 108.5Z" fill="#bfe2c9" stroke="#bfe2c9" stroke-width=".6"/>
<path d="M422.5 121.2 L427.5 119.4 L433.5 121.0 L434.2 136.0 L429.2 133.5 L424.2 127.9Z" fill="#a8d7b5" />
<path d="M326.7 151.9 L342.5 145.2 L346.7 148.5 L335.9 153.5 L329.2 158.5Z" fill="#a8d7b5" />
<path d="M302.5 135.2 L309.2 136.9 L309.2 145.2 L304.2 143.5Z" fill="#a8d7b5" />
<path d="M275.9 102.9 L282.5 101.5 L284.2 104.4 L280.2 111.9 L278.5 119.5 L275.9 118.5 L275.5 112.9 L276.9 108.5Z" fill="#8fb1f7" />
<path d="M398.9 144.9 L404.2 139.9 L404.9 140.9 L399.9 145.9Z" fill="#8fb1f7" />
<path d="M379.2 168.5 L382.9 163.5 L383.9 164.5 L380.9 169.4Z" fill="#8fb1f7" />
<path d="M393.9 85.2 L393.2 92.7" fill="none" stroke="#a4bff6" stroke-width=".9" stroke-dasharray="2 1.5"/>
<path d="M419.2 0.5 L425.9 3.4 L428.4 40.9 L419.2 40.9Z" fill="#bfe2c9" />
<path d="M419.2 40.9 L428.4 43.4 L429.5 77.5 L419.2 79.5Z" fill="#e4ebe3" stroke="#cbdad2" stroke-width=".8"/>
<path d="M419.2 5.9 L427.5 14.2 L424.2 17.5 L419.2 15.9Z" fill="#a8d7b5" stroke="#a8d7b5" stroke-width=".6"/>
<path d="M482.9 0.5 L592.5 0.5 L593.4 12.5 L594.5 20.9 L605.9 15.9 L600.9 21.7 L624.2 15.9 L624.2 20.5 L609.2 24.5 L599.2 24.2 L587.5 28.4 L580.0 36.2 L576.7 47.5 L584.5 54.5 L582.9 65.9 L586.2 75.9 L597.9 77.5 L592.9 85.2 L431.2 85.2 L431.2 70.9 L437.9 65.9 L444.2 57.5 L442.5 49.2 L447.9 44.2 L454.5 47.5 L460.9 39.2 L459.2 32.5 L469.2 34.2 L477.5 30.9 L489.2 29.2 L496.2 22.5 L489.2 15.9 L479.5 9.2Z" fill="#bfe2c9" stroke="#bfe2c9" stroke-width=".6"/>
<path d="M519.2 9.5 L529.2 7.5 L536.2 15.9 L529.5 21.2 L521.2 16.2Z" fill="#f3efe5" stroke="#f3efe5" stroke-width="1"/>
<path d="M539.5 16.2 L552.5 13.5 L554.5 29.2 L551.9 47.5 L546.2 49.5 L547.5 32.5 L542.9 25.9Z" fill="#f3efe5" stroke="#f3efe5" stroke-width="1"/>
<path d="M521.2 32.5 L527.5 30.9 L536.2 42.9 L529.5 49.5 L522.9 40.9Z" fill="#f3efe5" stroke="#f3efe5" stroke-width="1"/>
<path d="M507.5 47.9 L522.9 44.5 L519.5 51.2 L509.2 52.9Z" fill="#f3efe5" stroke="#f3efe5" stroke-width="1"/>
<path d="M500.9 56.9 L509.2 55.2 L516.2 57.9 L512.5 62.5 L507.5 64.5 L501.2 62.5Z" fill="#f3efe5" stroke="#f3efe5" stroke-width="1"/>
<path d="M564.2 14.5 L574.5 11.2 L574.2 17.9 L567.9 29.5 L564.5 24.2Z" fill="#f3efe5" stroke="#f3efe5" stroke-width="1"/>
<path d="M540.9 51.2 L549.5 49.2 L557.9 59.5 L552.9 66.2 L542.9 64.5 L536.2 67.9 L534.2 62.9Z" fill="#f3efe5" stroke="#f3efe5" stroke-width="1"/>
<path d="M522.5 67.5 L535.9 69.2 L540.9 77.5 L535.9 85.2 L525.9 85.2 L527.5 75.9Z" fill="#f3efe5" stroke="#f3efe5" stroke-width="1"/>
<path d="M472.5 69.2 L485.9 69.2 L482.5 74.2 L474.2 75.9Z" fill="#f3efe5" stroke="#f3efe5" stroke-width="1"/>
<path d="M585.9 5.9 L592.5 4.2 L592.5 12.5 L587.5 14.2Z" fill="#f3efe5" stroke="#f3efe5" stroke-width="1"/>
<path d="M445.9 49.2 L452.5 48.5 L450.9 55.9 L445.9 56.7Z" fill="#f3efe5" stroke="#f3efe5" stroke-width="1"/>
<path d="M483.4 6.2 L490.9 4.2 L494.5 9.2 L487.9 12.9Z" fill="#a8d7b5" />
<path d="M477.9 40.9 L486.2 35.9 L497.5 32.5 L502.9 39.2 L492.9 49.2 L482.9 55.9 L472.9 57.9 L479.5 49.2Z" fill="#a8d7b5" />
<path d="M510.9 25.9 L519.2 27.5 L519.2 37.9 L512.9 36.2Z" fill="#a8d7b5" />
<path d="M524.2 22.5 L536.2 20.9 L542.9 32.5 L536.2 37.9 L527.9 30.9Z" fill="#a8d7b5" />
<path d="M505.9 65.9 L519.2 64.2 L525.9 69.2 L519.2 77.5 L509.2 74.2Z" fill="#a8d7b5" />
<path d="M485.9 72.5 L494.2 70.9 L497.5 85.2 L487.5 85.2Z" fill="#a8d7b5" />
<path d="M552.5 19.2 L562.5 17.5 L564.2 32.5 L557.5 42.5 L552.5 32.5Z" fill="#a8d7b5" opacity=".6"/>
<path d="M435.9 85.2 L585.9 85.2 L562.9 86.9 L562.9 95.2 L569.5 98.9 L566.2 110.2 L572.9 118.5 L584.5 126.9 L587.9 135.2 L586.2 143.9 L579.5 138.9 L569.5 128.9 L564.5 122.2 L560.9 128.5 L565.9 138.5 L572.5 145.2 L569.2 147.2 L559.2 141.9 L552.5 135.2 L549.2 140.2 L552.5 148.5 L560.9 156.9 L560.9 170.2 L435.9 170.2 L435.9 158.5 L444.2 153.5 L435.9 135.2 L435.9 106.9Z" fill="#bfe2c9" stroke="#bfe2c9" stroke-width=".6"/>
<path d="M569.2 150.2 L577.9 151.9 L584.5 158.5 L596.2 156.9 L604.5 163.5 L607.9 170.2 L576.2 170.2 L579.5 161.9 L571.2 156.9Z" fill="#bfe2c9" stroke="#bfe2c9" stroke-width=".6"/>
<path d="M562.5 85.2 L585.9 85.2 L586.7 91.9 L579.2 98.5 L569.2 96.9Z" fill="#bfe2c9" stroke="#bfe2c9" stroke-width=".6"/>
<path d="M618.4 122.7 L624.2 123.5 L623.5 126.2Z" fill="#bfe2c9" stroke="#bfe2c9" stroke-width=".6"/>
<path d="M497.5 118.5 L507.5 110.2 L516.2 106.9 L526.2 113.5 L529.5 118.5 L526.2 126.9 L522.9 135.2 L517.9 133.5 L514.5 126.9 L504.5 131.9 L499.5 126.9Z" fill="#f3efe5" stroke="#f3efe5" stroke-width="1"/>
<path d="M522.5 85.2 L536.2 85.2 L544.5 88.5 L547.9 111.9 L542.9 118.5 L536.2 115.2 L532.9 101.9 L526.2 95.2 L519.5 88.5Z" fill="#f3efe5" stroke="#f3efe5" stroke-width="1"/>
<path d="M527.5 128.9 L536.2 132.2 L545.9 130.5 L552.5 140.2 L549.2 143.5 L542.5 151.9 L550.9 157.2 L559.2 163.5 L560.9 170.2 L542.9 170.2 L539.5 157.2 L539.5 147.2 L535.9 143.5 L527.9 137.2Z" fill="#f3efe5" stroke="#f3efe5" stroke-width="1"/>
<path d="M435.9 106.9 L449.5 103.5 L447.9 110.2 L457.9 115.2 L467.9 126.9 L474.5 128.5 L461.2 133.5 L457.9 143.9 L454.5 152.2 L444.5 153.9 L435.9 158.5Z" fill="#f3efe5" stroke="#f3efe5" stroke-width="1"/>
<path d="M490.9 137.2 L497.9 135.2 L496.2 142.2 L491.2 152.2 L487.9 153.9 L489.5 143.9Z" fill="#f3efe5" stroke="#f3efe5" stroke-width="1"/>
<path d="M488.4 160.5 L494.5 156.9 L495.2 163.9 L491.2 165.5Z" fill="#f3efe5" stroke="#f3efe5" stroke-width="1"/>
<path d="M504.2 88.9 L512.9 85.2 L516.2 93.9 L506.2 95.5Z" fill="#f3efe5" stroke="#f3efe5" stroke-width="1"/>
<path d="M461.7 93.9 L474.5 86.9 L489.2 85.2 L502.9 85.2 L506.2 108.5 L496.2 101.9 L482.9 98.5 L469.5 101.9Z" fill="#a8d7b5" />
<path d="M445.9 117.9 L452.9 118.5 L467.9 129.5 L464.5 132.2 L451.2 125.2Z" fill="#a8d7b5" />
<path d="M462.5 150.2 L480.9 148.5 L479.2 163.5 L469.2 170.2 L455.9 170.2 L459.2 158.5Z" fill="#a8d7b5" />
<path d="M579.2 126.9 L586.7 135.2 L585.9 143.5 L580.0 138.5Z" fill="#a8d7b5" opacity=".7"/>
<path d="M422.5 121.9 L429.5 119.5 L434.5 125.2 L434.5 135.5 L428.5 133.9 L423.5 128.9Z" fill="#a8d7b5" />
<path d="M471.7 107.9 L476.9 105.2 L480.2 116.9 L481.9 125.5 L478.5 123.5 L474.2 114.5Z" fill="#ffffff" />
<path d="M557.5 163.5 L560.0 165.2 L560.9 169.4 L559.2 169.4Z" fill="#8fb1f7" />
</g>
<path d="M26.2 0.0 L24.2 32.5 L22.5 65.9 L21.9 85.2" fill="none" stroke="#7d8286" stroke-width=".9" stroke-dasharray="1.4 1.5"/>
<path d="M21.9 85.2 L22.5 100.2 L90.9 170.5" fill="none" stroke="#7d8286" stroke-width=".9" stroke-dasharray="1.4 1.5"/>
<path d="M243.9 0.0 L243.9 85.2" fill="none" stroke="#7d8184" stroke-width=".8" stroke-dasharray="2.4 1.2"/>
<path d="M244.2 85.2 L244.2 171.2" fill="none" stroke="#7d8184" stroke-width=".8" stroke-dasharray="2.4 1.2"/>
<path d="M352.5 0.5 L352.9 6.9 L425.9 3.5 L439.2 2.9" fill="none" stroke="#7d8286" stroke-width=".9" stroke-dasharray="1.4 1.5"/>
<path d="M426.2 3.5 L428.4 40.9 L430.9 85.2" fill="none" stroke="#7d8286" stroke-width=".9" stroke-dasharray="1.4 1.5"/>
<path d="M439.5 2.4 L469.2 0.5" fill="none" stroke="#7d8286" stroke-width=".9" stroke-dasharray="1.4 1.5"/>
<path d="M431.7 85.2 L435.9 171.2" fill="none" stroke="#7d8286" stroke-width=".9" stroke-dasharray="1.4 1.5"/>
<path d="M-0.8 81.2 L9.2 82.2 L17.5 78.9 L21.7 76.2 L28.9 75.5 L36.2 75.0 L49.2 71.7 L56.7 65.0 L65.9 57.5 L72.5 51.7 L79.2 45.9 L85.0 39.2 L86.7 30.9 L90.0 24.2 L97.5 19.2 L102.5 11.7 L109.2 7.5 L114.2 6.2 L119.2 10.0 L127.5 15.9 L134.2 22.5 L139.2 27.5 L145.9 25.0 L152.5 24.2 L159.2 26.7 L165.9 24.2 L172.5 22.5 L179.2 17.5 L184.2 12.5 L190.9 10.9 L199.2 5.9 L209.2 4.2 L219.2 4.2 L229.2 6.7" fill="none" stroke="#f6d07c" stroke-width="2.4" stroke-linejoin="round" stroke-linecap="round"/>
<path d="M28.9 75.5 L30.5 79.2 L29.2 85.2" fill="none" stroke="#f6d07c" stroke-width="2.4" stroke-linejoin="round" stroke-linecap="round"/>
<path d="M28.9 85.2 L28.4 90.2 L30.5 93.5 L29.2 96.0" fill="none" stroke="#f6d07c" stroke-width="2.4" stroke-linejoin="round" stroke-linecap="round"/>
<path d="M209.2 4.2 L224.2 5.9 L230.9 10.9 L237.5 17.5 L243.4 21.7 L279.2 21.7 L285.9 16.7 L292.5 20.9 L305.9 24.2 L312.5 20.0 L323.0 19.5" fill="none" stroke="#f6d07c" stroke-width="2.4" stroke-linejoin="round" stroke-linecap="round"/>
<path d="M319.2 0.9 L320.9 9.2 L323.0 19.5 L323.4 32.5 L325.9 40.9 L332.5 45.9 L331.7 50.9 L328.4 57.5 L326.7 65.9 L325.9 72.5 L322.5 79.2 L318.4 85.2" fill="none" stroke="#f6d07c" stroke-width="2.4" stroke-linejoin="round" stroke-linecap="round"/>
<path d="M323.0 19.5 L332.5 19.2 L339.2 15.9 L342.5 7.5 L349.2 0.9" fill="none" stroke="#f6d07c" stroke-width="2.4" stroke-linejoin="round" stroke-linecap="round"/>
<path d="M317.5 0.9 L325.9 1.7 L335.9 5.9 L340.9 9.2" fill="none" stroke="#f6d07c" stroke-width="2.4" stroke-linejoin="round" stroke-linecap="round"/>
<path d="M318.4 85.2 L315.9 91.9 L310.9 100.2 L307.5 106.9 L301.7 115.2 L299.2 121.0 L298.9 126.0 L297.5 133.5 L297.2 141.9 L299.2 146.9 L295.0 153.5 L291.7 160.2 L285.0 165.2 L281.7 170.2" fill="none" stroke="#f6d07c" stroke-width="2.4" stroke-linejoin="round" stroke-linecap="round"/>
<path d="M298.9 124.9 L307.5 126.9 L312.5 123.5 L317.5 116.0 L322.5 110.2 L328.4 107.2 L335.9 109.4 L340.9 115.2 L345.0 116.0 L355.9 111.9 L369.2 109.4 L379.2 106.0 L389.2 101.9 L397.5 105.2 L405.9 103.5 L417.5 103.2 L424.2 96.9 L429.2 91.0 L435.9 88.5 L439.2 87.7" fill="none" stroke="#f6d07c" stroke-width="2.4" stroke-linejoin="round" stroke-linecap="round"/>
<path d="M419.2 103.5 L425.9 93.5 L432.5 89.9 L444.2 92.7 L450.2 95.5 L457.5 93.5 L461.7 85.2" fill="none" stroke="#f6d07c" stroke-width="2.4" stroke-linejoin="round" stroke-linecap="round"/>
<path d="M461.7 85.2 L465.9 77.5 L474.2 70.9 L485.9 67.5 L497.5 65.0 L507.5 61.7 L515.9 58.9 L520.9 61.7 L529.2 60.9 L534.2 65.0 L536.7 67.5 L539.2 60.9 L545.9 56.7 L552.5 54.2 L560.9 52.5 L569.2 52.9 L577.5 51.7" fill="none" stroke="#f6d07c" stroke-width="2.4" stroke-linejoin="round" stroke-linecap="round"/>
<path d="M572.5 5.9 L575.0 24.2 L576.7 40.9 L578.4 51.7 L583.4 55.9 L584.2 69.2 L585.9 85.2" fill="none" stroke="#f6d07c" stroke-width="2.4" stroke-linejoin="round" stroke-linecap="round"/>
<path d="M578.4 50.0 L585.9 37.5 L592.5 30.9 L602.5 25.9 L615.9 21.7 L624.2 20.0" fill="none" stroke="#f6d07c" stroke-width="2.4" stroke-linejoin="round" stroke-linecap="round"/>
<path d="M578.4 51.7 L585.9 49.2 L602.5 48.4 L610.9 50.9 L617.5 60.9 L621.7 66.7 L624.2 67.5" fill="none" stroke="#f6d07c" stroke-width="2.4" stroke-linejoin="round" stroke-linecap="round"/>
<path d="M586.7 85.2 L588.4 93.5 L595.9 106.9 L599.2 118.5 L595.9 128.5 L592.5 136.9 L594.2 146.9 L600.9 156.9 L607.5 168.5" fill="none" stroke="#f6d07c" stroke-width="2.4" stroke-linejoin="round" stroke-linecap="round"/>
<path d="M-0.8 81.2 L9.2 82.2 L17.5 78.9 L21.7 76.2 L28.9 75.5 L36.2 75.0 L49.2 71.7 L56.7 65.0 L65.9 57.5 L72.5 51.7 L79.2 45.9 L85.0 39.2 L86.7 30.9 L90.0 24.2 L97.5 19.2 L102.5 11.7 L109.2 7.5 L114.2 6.2 L119.2 10.0 L127.5 15.9 L134.2 22.5 L139.2 27.5 L145.9 25.0 L152.5 24.2 L159.2 26.7 L165.9 24.2 L172.5 22.5 L179.2 17.5 L184.2 12.5 L190.9 10.9 L199.2 5.9 L209.2 4.2 L219.2 4.2 L229.2 6.7" fill="none" stroke="#fdebb8" stroke-width="1.0" stroke-linejoin="round" stroke-linecap="round"/>
<path d="M28.9 75.5 L30.5 79.2 L29.2 85.2" fill="none" stroke="#fdebb8" stroke-width="1.0" stroke-linejoin="round" stroke-linecap="round"/>
<path d="M28.9 85.2 L28.4 90.2 L30.5 93.5 L29.2 96.0" fill="none" stroke="#fdebb8" stroke-width="1.0" stroke-linejoin="round" stroke-linecap="round"/>
<path d="M209.2 4.2 L224.2 5.9 L230.9 10.9 L237.5 17.5 L243.4 21.7 L279.2 21.7 L285.9 16.7 L292.5 20.9 L305.9 24.2 L312.5 20.0 L323.0 19.5" fill="none" stroke="#fdebb8" stroke-width="1.0" stroke-linejoin="round" stroke-linecap="round"/>
<path d="M319.2 0.9 L320.9 9.2 L323.0 19.5 L323.4 32.5 L325.9 40.9 L332.5 45.9 L331.7 50.9 L328.4 57.5 L326.7 65.9 L325.9 72.5 L322.5 79.2 L318.4 85.2" fill="none" stroke="#fdebb8" stroke-width="1.0" stroke-linejoin="round" stroke-linecap="round"/>
<path d="M323.0 19.5 L332.5 19.2 L339.2 15.9 L342.5 7.5 L349.2 0.9" fill="none" stroke="#fdebb8" stroke-width="1.0" stroke-linejoin="round" stroke-linecap="round"/>
<path d="M317.5 0.9 L325.9 1.7 L335.9 5.9 L340.9 9.2" fill="none" stroke="#fdebb8" stroke-width="1.0" stroke-linejoin="round" stroke-linecap="round"/>
<path d="M318.4 85.2 L315.9 91.9 L310.9 100.2 L307.5 106.9 L301.7 115.2 L299.2 121.0 L298.9 126.0 L297.5 133.5 L297.2 141.9 L299.2 146.9 L295.0 153.5 L291.7 160.2 L285.0 165.2 L281.7 170.2" fill="none" stroke="#fdebb8" stroke-width="1.0" stroke-linejoin="round" stroke-linecap="round"/>
<path d="M298.9 124.9 L307.5 126.9 L312.5 123.5 L317.5 116.0 L322.5 110.2 L328.4 107.2 L335.9 109.4 L340.9 115.2 L345.0 116.0 L355.9 111.9 L369.2 109.4 L379.2 106.0 L389.2 101.9 L397.5 105.2 L405.9 103.5 L417.5 103.2 L424.2 96.9 L429.2 91.0 L435.9 88.5 L439.2 87.7" fill="none" stroke="#fdebb8" stroke-width="1.0" stroke-linejoin="round" stroke-linecap="round"/>
<path d="M419.2 103.5 L425.9 93.5 L432.5 89.9 L444.2 92.7 L450.2 95.5 L457.5 93.5 L461.7 85.2" fill="none" stroke="#fdebb8" stroke-width="1.0" stroke-linejoin="round" stroke-linecap="round"/>
<path d="M461.7 85.2 L465.9 77.5 L474.2 70.9 L485.9 67.5 L497.5 65.0 L507.5 61.7 L515.9 58.9 L520.9 61.7 L529.2 60.9 L534.2 65.0 L536.7 67.5 L539.2 60.9 L545.9 56.7 L552.5 54.2 L560.9 52.5 L569.2 52.9 L577.5 51.7" fill="none" stroke="#fdebb8" stroke-width="1.0" stroke-linejoin="round" stroke-linecap="round"/>
<path d="M572.5 5.9 L575.0 24.2 L576.7 40.9 L578.4 51.7 L583.4 55.9 L584.2 69.2 L585.9 85.2" fill="none" stroke="#fdebb8" stroke-width="1.0" stroke-linejoin="round" stroke-linecap="round"/>
<path d="M578.4 50.0 L585.9 37.5 L592.5 30.9 L602.5 25.9 L615.9 21.7 L624.2 20.0" fill="none" stroke="#fdebb8" stroke-width="1.0" stroke-linejoin="round" stroke-linecap="round"/>
<path d="M578.4 51.7 L585.9 49.2 L602.5 48.4 L610.9 50.9 L617.5 60.9 L621.7 66.7 L624.2 67.5" fill="none" stroke="#fdebb8" stroke-width="1.0" stroke-linejoin="round" stroke-linecap="round"/>
<path d="M586.7 85.2 L588.4 93.5 L595.9 106.9 L599.2 118.5 L595.9 128.5 L592.5 136.9 L594.2 146.9 L600.9 156.9 L607.5 168.5" fill="none" stroke="#fdebb8" stroke-width="1.0" stroke-linejoin="round" stroke-linecap="round"/>
<circle cx="28.9" cy="75.5" r="2.0" fill="#fff" stroke="#3a3a3a" stroke-width=".9"/>
<text x="19.2" y="70.9" textLength="18.8" lengthAdjust="spacing" style="font-family:'Liberation Sans',sans-serif;font-size:8.2px;" fill="#fff" stroke="#fff" stroke-width="1.5" stroke-opacity=".8" stroke-linejoin="round" aria-hidden="true">Reno</text><text x="19.2" y="70.9" textLength="18.8" lengthAdjust="spacing" style="font-family:'Liberation Sans',sans-serif;font-size:8.2px;" fill="#2f2f2f" stroke="#2f2f2f" stroke-width="0.25">Reno</text>
<text x="114.2" y="68.9" textLength="46.4" lengthAdjust="spacing" style="font-family:'Liberation Sans',sans-serif;font-size:10px;" fill="#646d75" stroke="#646d75" stroke-width="0.45">NEVADA</text>
<circle cx="323.0" cy="19.5" r="2.0" fill="#fff" stroke="#3a3a3a" stroke-width=".9"/>
<text x="297.5" y="15.5" textLength="51.0" lengthAdjust="spacing" style="font-family:'Liberation Sans',sans-serif;font-size:8.6px;" fill="#fff" stroke="#fff" stroke-width="1.5" stroke-opacity=".8" stroke-linejoin="round" aria-hidden="true">Salt Lake City</text><text x="297.5" y="15.5" textLength="51.0" lengthAdjust="spacing" style="font-family:'Liberation Sans',sans-serif;font-size:8.6px;" fill="#2f2f2f" stroke="#2f2f2f" stroke-width="0.25">Salt Lake City</text>
<circle cx="332.2" cy="45.0" r="2.0" fill="#fff" stroke="#3a3a3a" stroke-width=".9"/>
<text x="321.7" y="40.9" textLength="20.8" lengthAdjust="spacing" style="font-family:'Liberation Sans',sans-serif;font-size:8.4px;" fill="#fff" stroke="#fff" stroke-width="1.5" stroke-opacity=".8" stroke-linejoin="round" aria-hidden="true">Provo</text><text x="321.7" y="40.9" textLength="20.8" lengthAdjust="spacing" style="font-family:'Liberation Sans',sans-serif;font-size:8.4px;" fill="#2f2f2f" stroke="#2f2f2f" stroke-width="0.25">Provo</text>
<text x="370.6" y="33.9" textLength="34.0" lengthAdjust="spacing" style="font-family:'Liberation Sans',sans-serif;font-size:7.7px;" fill="#7c878e" stroke="#7c878e" stroke-width="0.12">UINTAH</text>
<text x="361.7" y="42.2" textLength="52.2" lengthAdjust="spacing" style="font-family:'Liberation Sans',sans-serif;font-size:7.7px;" fill="#7c878e" stroke="#7c878e" stroke-width="0.12">AND OURAY</text>
<text x="356.7" y="50.9" textLength="62.2" lengthAdjust="spacing" style="font-family:'Liberation Sans',sans-serif;font-size:7.7px;" fill="#7c878e" stroke="#7c878e" stroke-width="0.12">RESERVATION</text>
<text x="317.2" y="102.7" textLength="30.0" lengthAdjust="spacing" style="font-family:'Liberation Sans',sans-serif;font-size:10px;" fill="#646d75" stroke="#646d75" stroke-width="0.45">UTAH</text>
<circle cx="570.0" cy="10.9" r="2.0" fill="#fff" stroke="#3a3a3a" stroke-width=".9"/>
<text x="549.2" y="7.2" textLength="42.0" lengthAdjust="spacing" style="font-family:'Liberation Sans',sans-serif;font-size:8px;" fill="#fff" stroke="#fff" stroke-width="1.5" stroke-opacity=".8" stroke-linejoin="round" aria-hidden="true">Fort Collins</text><text x="549.2" y="7.2" textLength="42.0" lengthAdjust="spacing" style="font-family:'Liberation Sans',sans-serif;font-size:8px;" fill="#2f2f2f" stroke="#2f2f2f" stroke-width="0.25">Fort Collins</text>
<circle cx="577.5" cy="51.7" r="2.6" fill="#fff" stroke="#3a3a3a" stroke-width=".9"/>
<text x="560.0" y="46.4" textLength="35.0" lengthAdjust="spacing" style="font-family:'Liberation Sans',sans-serif;font-size:10.6px;font-weight:700;" fill="#fff" stroke="#fff" stroke-width="1.5" stroke-opacity=".8" stroke-linejoin="round" aria-hidden="true">Denver</text><text x="560.0" y="46.4" textLength="35.0" lengthAdjust="spacing" style="font-family:'Liberation Sans',sans-serif;font-size:10.6px;font-weight:700;" fill="#222" stroke="#222" stroke-width="0.25">Denver</text>
<text x="530.0" y="77.2" textLength="62.2" lengthAdjust="spacing" style="font-family:'Liberation Sans',sans-serif;font-size:10px;" fill="#646d75" stroke="#646d75" stroke-width="0.45">COLORADO</text>
<text x="439.2" y="83.4" textLength="21.7" lengthAdjust="spacing" style="font-family:'Liberation Sans',sans-serif;font-size:8px;" fill="#fff" stroke="#fff" stroke-width="1.5" stroke-opacity=".8" stroke-linejoin="round" aria-hidden="true">Grand</text><text x="439.2" y="83.4" textLength="21.7" lengthAdjust="spacing" style="font-family:'Liberation Sans',sans-serif;font-size:8px;" fill="#2f2f2f" stroke="#2f2f2f" stroke-width="0.25">Grand</text>
<circle cx="450.2" cy="95.5" r="2.0" fill="#fff" stroke="#3a3a3a" stroke-width=".9"/>
<text x="434.2" y="91.0" textLength="32.0" lengthAdjust="spacing" style="font-family:'Liberation Sans',sans-serif;font-size:8px;" fill="#fff" stroke="#fff" stroke-width="1.5" stroke-opacity=".8" stroke-linejoin="round" aria-hidden="true">Junction</text><text x="434.2" y="91.0" textLength="32.0" lengthAdjust="spacing" style="font-family:'Liberation Sans',sans-serif;font-size:8px;" fill="#2f2f2f" stroke="#2f2f2f" stroke-width="0.25">Junction</text>
<circle cx="588.4" cy="93.5" r="2.0" fill="#fff" stroke="#3a3a3a" stroke-width=".9"/>
<text x="571.2" y="102.7" textLength="33.8" lengthAdjust="spacing" style="font-family:'Liberation Sans',sans-serif;font-size:8px;" fill="#fff" stroke="#fff" stroke-width="1.5" stroke-opacity=".8" stroke-linejoin="round" aria-hidden="true">Colorado</text><text x="571.2" y="102.7" textLength="33.8" lengthAdjust="spacing" style="font-family:'Liberation Sans',sans-serif;font-size:8px;" fill="#2f2f2f" stroke="#2f2f2f" stroke-width="0.25">Colorado</text>
<text x="573.9" y="110.5" textLength="28.6" lengthAdjust="spacing" style="font-family:'Liberation Sans',sans-serif;font-size:8px;" fill="#fff" stroke="#fff" stroke-width="1.5" stroke-opacity=".8" stroke-linejoin="round" aria-hidden="true">Springs</text><text x="573.9" y="110.5" textLength="28.6" lengthAdjust="spacing" style="font-family:'Liberation Sans',sans-serif;font-size:8px;" fill="#2f2f2f" stroke="#2f2f2f" stroke-width="0.25">Springs</text>
</g></svg>
</section>
<section>
<div class="card" style="left:697.5px;top:636px;width:629px;height:228px"></div>
<div class="sep" style="left:698.5px;top:688.8px;width:627px"></div>
<h2 class="t" style="left:713.30px;top:655.00px;font-size:15px;line-height:15px;color:#222;letter-spacing:0.035px;transform:scaleX(1.1000);">Critical suppliers</h2>
<svg style="left:847.4px;top:652px" width="22" height="22" viewBox="847.4 652 22 22"><circle cx="858.4" cy="663" r="8.8" fill="none" stroke="#555" stroke-width="1.4"/><path d="M858.4 661.4 V667.6" stroke="#555" stroke-width="1.5"/><circle cx="858.4" cy="658.7" r=".95" fill="#555"/></svg>
</section>
</main>
<footer>
<span class="t" style="left:54.20px;top:906.00px;font-size:15px;line-height:15px;color:#c6c6c6;transform:scaleX(1.0699);">© 2022 All rights reserved</span>
<a class="t" style="left:1222.20px;top:906.00px;font-size:15px;line-height:15px;color:#c2c2c2;letter-spacing:0.090px;transform:scaleX(1.1000);-webkit-text-stroke:.45px #c2c2c2;">Privacy notice</a><div class="abs" style="left:1222.2px;top:920.1px;width:104px;height:1.2px;background:#c2c2c2"></div>
</footer>
</div></body></html>
